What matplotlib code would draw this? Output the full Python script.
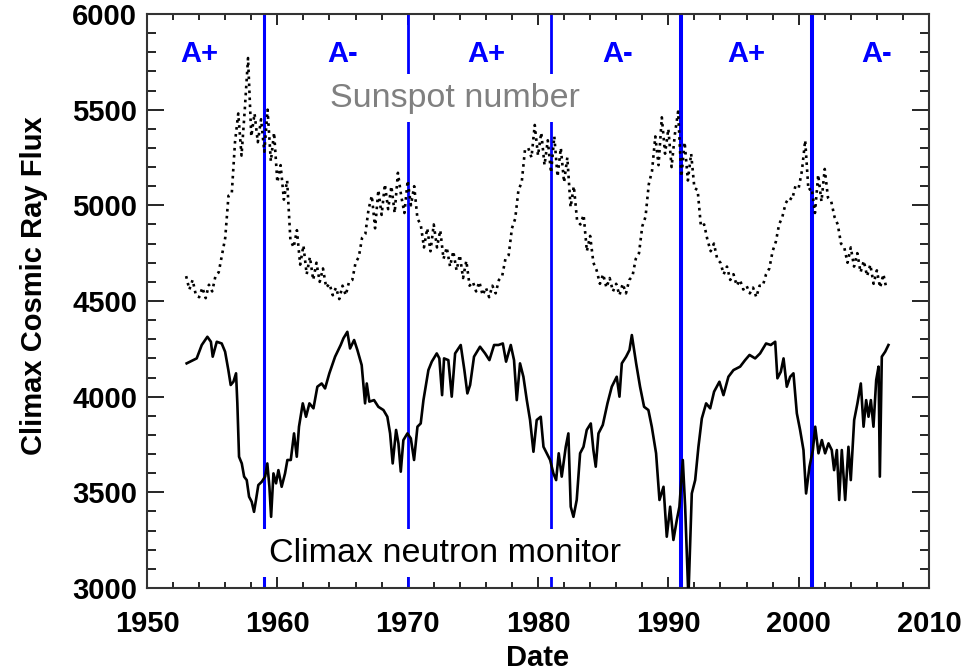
import numpy as np
import matplotlib
matplotlib.use("Agg")
import matplotlib.pyplot as plt
from matplotlib.ticker import MultipleLocator

# sunspot number, rescaled onto the flux axis, one value per quarter from 1953.0
ss_start = 1953.0
ss_flux = [
    4630, 4560, 4610, 4530, 4520, 4570, 4515, 4585,
    4550, 4630, 4650, 4740, 4830, 5050, 5060, 5330,
    5480, 5260, 5500, 5770, 5360, 5480, 5330, 5450,
    5280, 5500, 5230, 5380, 5120, 5210, 5030, 5130,
    4820, 4780, 4870, 4690, 4790, 4640, 4730, 4610,
    4700, 4600, 4670, 4570, 4590, 4530, 4570, 4510,
    4580, 4530, 4600, 4610, 4700, 4730, 4830, 4850,
    4980, 5050, 4880, 5080, 4950, 5110, 4980, 5100,
    4960, 5170, 5050, 4960, 5130, 5000, 5100, 4930,
    4900, 4780, 4880, 4760, 4900, 4780, 4870, 4720,
    4780, 4680, 4760, 4660, 4740, 4620, 4710, 4580,
    4600, 4550, 4600, 4530, 4570, 4520, 4580, 4540,
    4610, 4630, 4720, 4740, 4880, 4930, 5080, 5120,
    5290, 5300, 5250, 5420, 5260, 5380, 5210, 5340,
    5170, 5360, 5150, 5300, 5120, 5250, 4990, 5100,
    4920, 4900, 4950, 4760, 4840, 4700, 4660, 4590,
    4640, 4570, 4620, 4550, 4590, 4530, 4590, 4540,
    4610, 4630, 4720, 4750, 4890, 4940, 5110, 5180,
    5360, 5210, 5460, 5270, 5400, 5200, 5370, 5490,
    5150, 5330, 5130, 5270, 5090, 5080, 4890, 4900,
    4820, 4760, 4800, 4720, 4700, 4640, 4680, 4610,
    4640, 4580, 4610, 4560, 4580, 4540, 4570, 4520,
    4580, 4580, 4640, 4670, 4760, 4810, 4900, 4940,
    5010, 5040, 5030, 5100, 5090, 5180, 5340, 5080,
    5090, 4960, 5160, 5020, 5190, 5040, 5020, 4940,
    4900, 4800, 4780, 4700, 4780, 4680, 4750, 4650,
    4710, 4630, 4690, 4590, 4660, 4570, 4640, 4560,
]
ss_year = ss_start + 0.25 * np.arange(len(ss_flux))

# Climax neutron monitor counts
nm_year = [
    1953.04, 1953.81, 1954.20, 1954.63, 1954.90, 1955.04, 1955.35, 1955.73, 1955.99, 1956.24,
    1956.42, 1956.63, 1956.83, 1956.93, 1957.06, 1957.27, 1957.45, 1957.65, 1957.83, 1958.03,
    1958.21, 1958.36, 1958.54, 1958.80, 1959.06, 1959.23, 1959.39, 1959.52, 1959.70, 1959.90,
    1960.08, 1960.33, 1960.59, 1960.77, 1961.03, 1961.28, 1961.49, 1961.66, 1961.95, 1962.20,
    1962.46, 1962.77, 1963.07, 1963.40, 1963.66, 1963.99, 1964.43, 1964.86, 1965.07, 1965.37,
    1965.58, 1965.89, 1966.14, 1966.47, 1966.73, 1966.86, 1967.06, 1967.42, 1967.75, 1968.14,
    1968.44, 1968.65, 1968.85, 1969.11, 1969.29, 1969.47, 1969.67, 1969.98, 1970.24, 1970.49,
    1970.75, 1971.00, 1971.21, 1971.59, 1971.85, 1972.23, 1972.43, 1972.64, 1972.79, 1973.12,
    1973.38, 1973.64, 1974.07, 1974.35, 1974.58, 1974.79, 1975.09, 1975.55, 1975.94, 1976.27,
    1976.63, 1976.96, 1977.30, 1977.55, 1977.91, 1978.16, 1978.37, 1978.62, 1978.88, 1979.14,
    1979.39, 1979.65, 1979.90, 1980.21, 1980.42, 1980.67, 1980.93, 1981.18, 1981.39, 1981.59,
    1981.82, 1982.13, 1982.33, 1982.51, 1982.72, 1982.97, 1983.23, 1983.49, 1983.74, 1984.05,
    1984.25, 1984.43, 1984.64, 1984.97, 1985.33, 1985.66, 1986.04, 1986.25, 1986.43, 1986.76,
    1987.02, 1987.20, 1987.53, 1987.83, 1988.14, 1988.47, 1988.73, 1989.06, 1989.32, 1989.63,
    1989.88, 1990.14, 1990.39, 1990.65, 1990.85, 1991.11, 1991.29, 1991.54, 1991.80, 1992.06,
    1992.31, 1992.57, 1992.90, 1993.21, 1993.51, 1993.92, 1994.23, 1994.61, 1995.00, 1995.51,
    1995.89, 1996.23, 1996.66, 1997.04, 1997.50, 1997.86, 1998.20, 1998.37, 1998.63, 1998.84,
    1999.09, 1999.35, 1999.60, 1999.86, 2000.11, 2000.37, 2000.57, 2000.83, 2001.09, 2001.27,
    2001.52, 2001.78, 2002.03, 2002.29, 2002.54, 2002.72, 2002.93, 2003.11, 2003.31, 2003.57,
    2003.82, 2004.00, 2004.26, 2004.51, 2004.77, 2004.98, 2005.18, 2005.36, 2005.54, 2005.74,
    2005.95, 2006.13, 2006.23, 2006.38, 2006.64, 2006.89,
]
nm_flux = [
    4174, 4200, 4270, 4313, 4287, 4209, 4287, 4278, 4235, 4139,
    4061, 4078, 4122, 3965, 3686, 3651, 3582, 3564, 3477, 3451,
    3398, 3460, 3538, 3555, 3582, 3651, 3529, 3372, 3599, 3547,
    3616, 3529, 3599, 3669, 3669, 3808, 3686, 3843, 3965, 3895,
    3965, 3939, 4052, 4069, 4043, 4122, 4209, 4270, 4305, 4339,
    4252, 4296, 4244, 4165, 3965, 4069, 3974, 3982, 3947, 3930,
    3895, 3808, 3651, 3826, 3756, 3608, 3773, 3808, 3782, 3669,
    3843, 3860, 3982, 4139, 4183, 4226, 4200, 4008, 4200, 4191,
    4000, 4226, 4270, 4139, 4017, 4061, 4209, 4261, 4226, 4191,
    4270, 4270, 4278, 4183, 4270, 4191, 3982, 4174, 4104, 3982,
    3878, 3712, 3878, 3895, 3738, 3704, 3669, 3599, 3564, 3704,
    3582, 3738, 3808, 3425, 3372, 3460, 3704, 3738, 3826, 3860,
    3721, 3634, 3808, 3852, 3965, 4052, 4104, 4000, 4174, 4209,
    4244, 4322, 4174, 4052, 3947, 3930, 3843, 3704, 3460, 3529,
    3268, 3425, 3251, 3355, 3425, 3669, 3425, 2950, 3494, 3564,
    3738, 3886, 3965, 3939, 4026, 4078, 4008, 4104, 4139, 4157,
    4191, 4218, 4200, 4226, 4278, 4270, 4287, 4096, 4130, 4200,
    4052, 4104, 4122, 3913, 3826, 3721, 3494, 3634, 3721, 3843,
    3704, 3773, 3704, 3756, 3721, 3616, 3721, 3460, 3721, 3460,
    3738, 3564, 3878, 3965, 4069, 3843, 3982, 3895, 3982, 3843,
    4087, 4157, 3582, 4209, 4235, 4270,
]

# polarity reversals and epochs
reversal_year = [1959.0, 1970.0, 1981.0, 1991.0, 2001.0]
reversal_width = [2.2, 2.0, 2.0, 2.9, 2.9]
polarity_label = ["A+", "A-", "A+", "A-", "A+", "A-"]
polarity_year = [1954.0, 1965.0, 1976.0, 1986.1, 1996.0, 2006.0]

plt.rcParams['font.family'] = ['Liberation Sans', 'DejaVu Sans']

fig = plt.figure(figsize=(9.75, 6.7), dpi=100)
ax = fig.add_axes([0.1508, 0.1224, 0.802, 0.8567])

ax.plot(ss_year, ss_flux, color='black', linestyle=':', linewidth=1.9, zorder=3)
ax.plot(nm_year, nm_flux, color='black', linewidth=1.9, zorder=3)

for yr, lw in zip(reversal_year, reversal_width):
    ax.axvline(yr, color='#0000ff', linewidth=lw, zorder=2)

for lab, yr in zip(polarity_label, polarity_year):
    ax.text(yr, 5750, lab, color='#0000ff', fontsize=21, fontweight='bold',
            ha='center', va='baseline', zorder=5)

ax.text(1973.6, 5514, "Sunspot number", color='#808080', fontsize=24.5,
        ha='center', va='baseline', zorder=6,
        bbox=dict(boxstyle='square,pad=0.25', fc='white', ec='none'))
ax.text(1972.9, 3137, "Climax neutron monitor", color='black', fontsize=24.5,
        ha='center', va='baseline', zorder=6,
        bbox=dict(boxstyle='square,pad=0.25', fc='white', ec='none'))

ax.set_xlim(1950, 2010)
ax.set_ylim(3000, 6000)
ax.xaxis.set_major_locator(MultipleLocator(10))
ax.xaxis.set_minor_locator(MultipleLocator(2))
ax.yaxis.set_major_locator(MultipleLocator(500))
ax.yaxis.set_minor_locator(MultipleLocator(100))

ax.tick_params(axis='x', which='major', direction='in', length=8, width=1.2,
               top=True, pad=16, labelsize=21)
ax.tick_params(axis='x', which='minor', direction='in', length=4.5, width=1.2, top=True)
ax.tick_params(axis='y', which='major', direction='in', length=12, width=1.2,
               right=True, pad=7, labelsize=21)
ax.tick_params(axis='y', which='minor', direction='in', length=6.5, width=1.2, right=True)
for lab in ax.get_xticklabels() + ax.get_yticklabels():
    lab.set_fontweight('bold')
for sp in ax.spines.values():
    sp.set_linewidth(1.5)
    sp.set_color('#333333')

yt = ax.yaxis.get_major_ticks()
yt[0].label1.set_va('bottom')
yt[-1].label1.set_va('top')

ax.set_xlabel("Date", fontsize=21, fontweight='bold', labelpad=4)
ax.set_ylabel("Climax Cosmic Ray Flux", fontsize=21, fontweight='bold')
ax.yaxis.set_label_coords(-0.127, 0.526)

fig.savefig("out.png", dpi=100)
